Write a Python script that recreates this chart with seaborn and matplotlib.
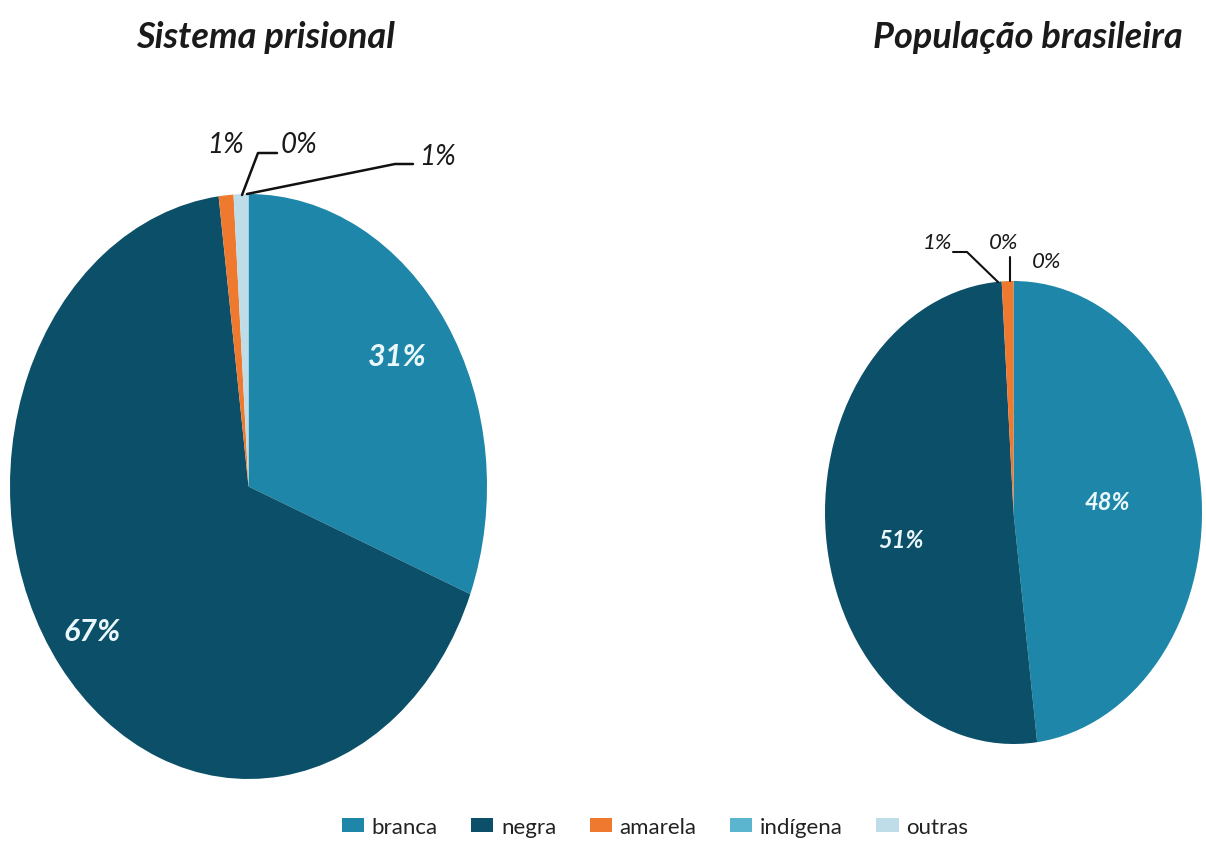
import matplotlib
matplotlib.use("Agg")
import matplotlib.pyplot as plt
from matplotlib.patches import Patch
import seaborn as sns

# Composição por raça/cor
categories = ["branca", "negra", "amarela", "indígena", "outras"]
prisional = [31, 67, 1, 0, 1]
populacao = [48, 51, 1, 0, 0]
titles = ["Sistema prisional", "População brasileira"]

sns.set_theme(style="white")
plt.rcParams["font.family"] = ["Lato", "DejaVu Sans"]
palette = sns.color_palette(["#1E86A8", "#0B4F69", "#EF7A2F", "#5BB5CF", "#BFDDE8"])

W, H = 1206, 845
fig = plt.figure(figsize=(W / 100, H / 100), dpi=100)
fig.patch.set_facecolor("white")


def px_axes(x0, y0, x1, y1):
    return fig.add_axes([x0 / W, 1 - y1 / H, (x1 - x0) / W, (y1 - y0) / H])


def draw_pie(ax, values):
    ax.pie(values, colors=palette, startangle=90, counterclock=False,
           wedgeprops=dict(linewidth=0))
    ax.set_xlim(-1, 1)
    ax.set_ylim(-1, 1)
    ax.set_aspect("auto")
    ax.axis("off")


inner = dict(color="#EAF7FB", fontweight="bold", style="italic",
             ha="center", va="center")

# Pie on the left
ax1 = px_axes(10, 195, 487, 780)
draw_pie(ax1, prisional)
ax1.text(0.811, 0.723, f"{prisional[0]}%", transform=ax1.transAxes, fontsize=22, **inner)
ax1.text(0.172, 0.253, f"{prisional[1]}%", transform=ax1.transAxes, fontsize=22, **inner)

# Pie on the right
ax2 = px_axes(825, 282, 1202, 745)
draw_pie(ax2, populacao)
ax2.text(0.748, 0.523, f"{populacao[0]}%", transform=ax2.transAxes, fontsize=17, **inner)
ax2.text(0.202, 0.441, f"{populacao[1]}%", transform=ax2.transAxes, fontsize=17, **inner)

# Overlay for titles, outside labels and leader lines (pixel coordinates)
ov = fig.add_axes([0, 0, 1, 1])
ov.set_xlim(0, W)
ov.set_ylim(H, 0)
ov.axis("off")
ov.patch.set_alpha(0)

txt = dict(color="#1A1A1A", style="italic", ha="center", va="center")
ov.text(265, 38, titles[0], fontsize=26, fontweight="bold", **txt)
ov.text(1028, 38, titles[1], fontsize=26, fontweight="bold", **txt)

# left outside labels
ov.text(226, 145, f"{prisional[2]}%", fontsize=20, **txt)
ov.text(299, 145, f"{prisional[3]}%", fontsize=20, **txt)
ov.text(438, 157, f"{prisional[4]}%", fontsize=20, **txt)
ov.plot([242, 258, 277], [196, 154, 154], color="#111111", lw=1.8)
ov.plot([247, 395, 413], [195, 165, 165], color="#111111", lw=1.8)

# right outside labels
ov.text(937, 243, f"{populacao[2]}%", fontsize=16, **txt)
ov.text(1004, 243, f"{populacao[3]}%", fontsize=16, **txt)
ov.text(1047, 262, f"{populacao[4]}%", fontsize=16, **txt)
ov.plot([998, 967, 953], [283, 253, 253], color="#111111", lw=1.5)
ov.plot([1010, 1010], [282, 258], color="#111111", lw=1.5)

handles = [Patch(facecolor=c, edgecolor="none") for c in palette]
fig.legend(handles, categories, loc="center", bbox_to_anchor=(655 / W, 1 - 828 / H),
           ncol=5, frameon=False, fontsize=16, handlelength=1.0, handleheight=0.6,
           handletextpad=0.35, columnspacing=1.5, labelcolor="#222222")

fig.savefig("out.png", dpi=100, facecolor="white")
